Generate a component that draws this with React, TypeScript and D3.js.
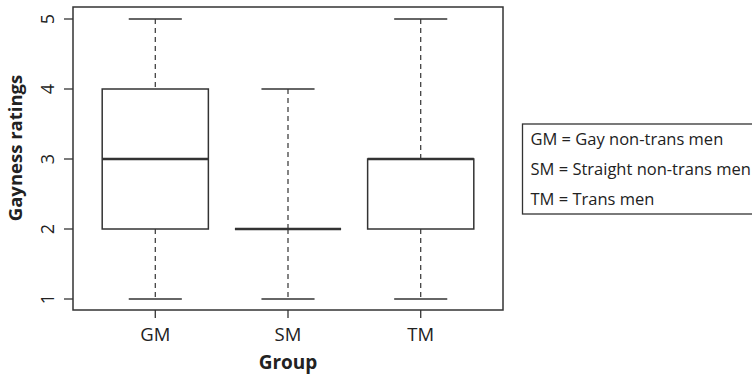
import React from 'react';
import * as d3 from 'd3';

// five-number summaries
const groups = ['GM', 'SM', 'TM'];
const mins = [1, 1, 1];
const q1s = [2, 2, 2];
const medians = [3, 2, 3];
const q3s = [4, 2, 3];
const maxs = [5, 4, 5];
const yTicks = [1, 2, 3, 4, 5];
const legendLines = [
  'GM = Gay non-trans men',
  'SM = Straight non-trans men',
  'TM = Trans men',
];

const W = 752;
const H = 374;
const frame = { left: 73, right: 503, top: 7, bottom: 310 };
const ink = '#333';
const font = '"Open Sans", sans-serif';

export default function App() {
  const x = d3.scalePoint<string>()
    .domain(groups)
    .range([frame.left, frame.right])
    .padding(0.62);
  const step = x.step();
  const boxW = step * 0.8;
  const capW = boxW / 2;
  const y = d3.scaleLinear().domain([1, 5]).range([299, 19]);

  const rows = groups.map((g, i) => ({
    g, min: mins[i], q1: q1s[i], med: medians[i], q3: q3s[i], max: maxs[i],
  }));

  return (
    <svg width={W} height={H} style={{ position: 'absolute', left: 0, top: 0, background: '#fff' }}>
      <rect x={0} y={0} width={W} height={H} fill="#fff" />
      {rows.map((r) => {
        const cx = x(r.g)!;
        return (
          <g key={r.g} stroke={ink} fill="none">
            {/* whiskers */}
            <line x1={cx} x2={cx} y1={y(r.max)} y2={y(r.q3)} strokeWidth={1.2} strokeDasharray="5,4" />
            <line x1={cx} x2={cx} y1={y(r.q1)} y2={y(r.min)} strokeWidth={1.2} strokeDasharray="5,4" />
            <line x1={cx - capW / 2} x2={cx + capW / 2} y1={y(r.max)} y2={y(r.max)} strokeWidth={1.5} />
            <line x1={cx - capW / 2} x2={cx + capW / 2} y1={y(r.min)} y2={y(r.min)} strokeWidth={1.5} />
            {/* box */}
            <rect x={cx - boxW / 2} y={y(r.q3)} width={boxW} height={y(r.q1) - y(r.q3)} fill="#fff" strokeWidth={1.5} />
            <line x1={cx - boxW / 2} x2={cx + boxW / 2} y1={y(r.med)} y2={y(r.med)} strokeWidth={2.6} />
          </g>
        );
      })}

      {/* plot frame */}
      <rect x={frame.left} y={frame.top} width={frame.right - frame.left} height={frame.bottom - frame.top}
        fill="none" stroke={ink} strokeWidth={1.5} />

      {/* y axis */}
      {yTicks.map((t) => (
        <g key={t}>
          <line x1={frame.left - 9} x2={frame.left} y1={y(t)} y2={y(t)} stroke={ink} strokeWidth={1.3} />
          <text transform={`translate(54,${y(t)}) rotate(-90)`} textAnchor="middle"
            fontFamily={font} fontSize={18} fill="#222">{t}</text>
        </g>
      ))}
      <text transform={`translate(22,148) rotate(-90)`} textAnchor="middle"
        fontFamily={font} fontSize={18.5} fontWeight="bold" fill="#222">Gayness ratings</text>

      {/* x axis */}
      {groups.map((g) => (
        <g key={g}>
          <line x1={x(g)} x2={x(g)} y1={frame.bottom} y2={frame.bottom + 8} stroke={ink} strokeWidth={1.3} />
          <text x={x(g)} y={340.5} textAnchor="middle" fontFamily={font} fontSize={18.5} fill="#222">{g}</text>
        </g>
      ))}
      <text x={x('SM')} y={369} textAnchor="middle" fontFamily={font} fontSize={19} fontWeight="bold" fill="#222">Group</text>

      {/* legend */}
      <rect x={522.5} y={124} width={260} height={90} fill="#fff" stroke={ink} strokeWidth={1.3} />
      {legendLines.map((s, i) => (
        <text key={s} x={530.5} y={145 + i * 30} fontFamily={font} fontSize={16.5} fill="#222">{s}</text>
      ))}
    </svg>
  );
}
